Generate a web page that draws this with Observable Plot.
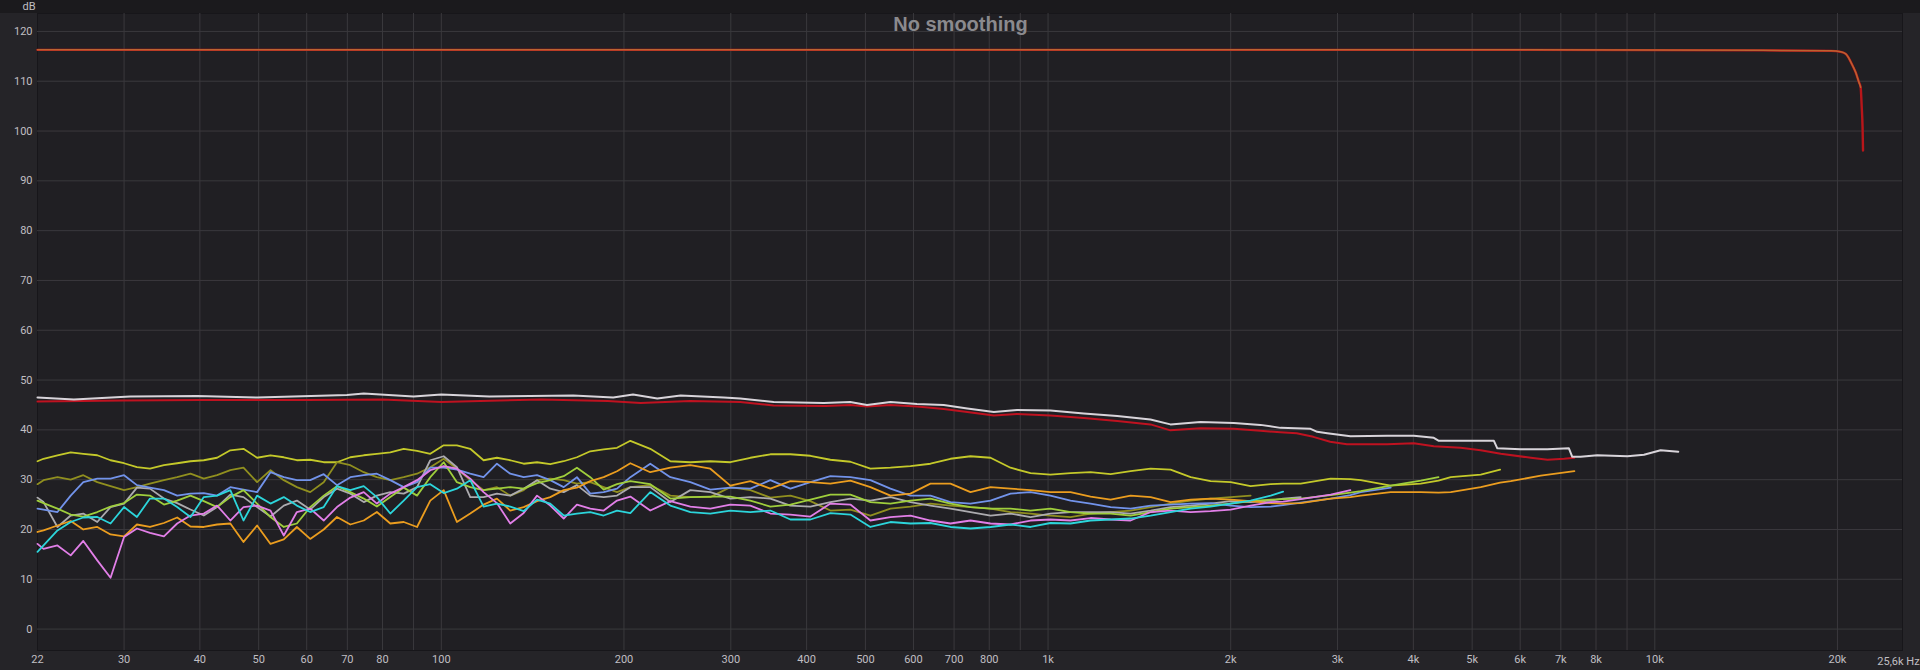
<!DOCTYPE html>
<html><head><meta charset="utf-8">
<script src="https://cdn.jsdelivr.net/npm/d3@7"></script>
<script src="https://cdn.jsdelivr.net/npm/@observablehq/plot@0.6"></script>
<style>
html,body{margin:0;padding:0;background:#252428;overflow:hidden;}
#chart svg{display:block;}
</style></head><body><div id="chart"></div>
<script>
// ---------- DATA ----------
const FREQ_GRID = [21.6, 22.1, 23.3, 24.5, 25.7, 27.1, 28.5, 30.0, 31.5, 33.1,
  34.9, 36.7, 38.6, 40.6, 42.7, 44.9, 47.2, 49.7, 52.3, 55.0,
  57.8, 60.8, 64.0, 67.3, 70.8, 74.5, 78.3, 82.4, 86.7, 91.2,
  95.9, 100.9, 106.1, 111.6, 117.4, 123.5, 129.9, 136.7, 143.8, 151.2,
  159.1, 167.3, 176.0, 185.2, 194.8, 204.9, 221, 238.5, 257.3, 277.6,
  299.5, 323.1, 348.6, 376.1, 405.8, 437.8, 472.3, 509.6, 549.8, 593.2,
  640, 690.5, 745, 803.8, 867.2, 935.6, 1009, 1089, 1175, 1268,
  1368, 1476, 1592, 1718, 1853, 2000, 2157, 2328, 2440, 2609,
  2923, 3150, 3276, 3671, 4114, 4400, 4610, 5166, 5560, 5789,
  6487, 7370];

const yellowDb = [33.7, 34.2, 34.9, 35.5, 35.2, 34.9, 33.9, 33.3, 32.5, 32.2,
  32.9, 33.3, 33.7, 33.9, 34.4, 35.9, 36.2, 34.4, 34.9, 34.5,
  33.9, 34.0, 33.5, 33.5, 34.5, 34.9, 35.2, 35.5, 36.2, 35.8,
  35.2, 36.9, 36.9, 36.2, 33.9, 34.4, 33.9, 33.2, 33.5, 33.1,
  33.7, 34.5, 35.7, 36.1, 36.4, 37.8, 36.2, 33.7, 33.5, 33.7,
  33.5, 34.4, 35.1, 35.1, 34.8, 34.0, 33.6, 32.2, 32.4, 32.7,
  33.2, 34.2, 34.7, 34.4, 32.4, 31.3, 31.0, 31.3, 31.5, 31.1,
  31.7, 32.2, 32.0, 30.5, 29.7, 29.5, 28.7, 29.1, 29.2, 29.2,
  30.2, 30.1, 29.9, 28.8, 29.2, 29.8, 30.5, 31.0, 32.0];

const oliveDb = [29.1, 29.9, 30.5, 30.0, 30.9, 29.5, 28.7, 27.9, 28.5, 29.2,
  29.9, 30.5, 31.2, 30.2, 30.9, 31.9, 32.4, 29.5, 31.9, 29.9,
  28.5, 27.5, 29.5, 33.5, 32.9, 31.5, 30.5, 29.9, 30.5, 31.2,
  32.5, 34.2, 32.2, 29.9, 27.9, 28.5, 26.8, 27.9, 29.9, 30.2,
  29.9, 29.2, 29.5, 28.5, 27.5, 28.5, 28.9, 26.8, 26.5, 26.5,
  28.5, 27.9, 26.4, 26.8, 25.7, 23.8, 24.0, 22.8, 24.2, 24.6,
  25.2, 24.8, 24.5, 24.2, 23.5, 23.2, 22.8, 22.5, 23.2, 23.5,
  23.8, 24.5, 25.2, 25.8, 26.2, 26.5, 26.8];

const blueDb = [24.2, 24.0, 23.5, 26.8, 29.5, 30.2, 30.2, 30.9, 28.9, 28.4,
  27.9, 26.8, 27.2, 27.3, 26.8, 28.5, 28.0, 27.5, 31.5, 30.5,
  29.9, 29.9, 31.1, 28.9, 30.5, 30.9, 31.2, 29.9, 28.5, 29.5,
  32.4, 32.4, 32.0, 31.2, 30.5, 33.2, 31.2, 30.5, 30.9, 29.9,
  28.5, 30.5, 27.2, 27.5, 28.2, 30.5, 33.2, 30.5, 29.5, 28.0,
  28.4, 28.2, 29.9, 28.2, 29.5, 30.7, 30.5, 29.9, 28.2, 26.8,
  26.8, 25.5, 25.2, 25.8, 27.2, 27.5, 26.8, 25.8, 25.2, 24.5,
  24.2, 24.8, 25.0, 25.2, 25.3, 24.8, 24.5, 24.6, 24.9, 25.4,
  26.2, 26.9, 27.5, 28.4];

const grayDb = [26.4, 25.5, 20.5, 22.8, 23.2, 21.5, 24.5, 25.2, 28.4, 28.2,
  26.2, 25.3, 24.0, 22.8, 24.5, 27.0, 26.5, 24.5, 22.6, 24.8,
  25.8, 24.0, 26.5, 28.2, 27.2, 25.5, 26.8, 27.5, 27.2, 28.5,
  33.9, 34.7, 32.5, 26.5, 26.5, 27.2, 26.8, 28.2, 29.9, 28.2,
  27.5, 28.9, 26.8, 26.5, 26.8, 28.5, 28.5, 25.5, 27.9, 27.5,
  26.2, 26.5, 26.2, 24.8, 24.6, 25.5, 26.2, 25.8, 26.5, 25.5,
  24.8, 24.2, 23.5, 22.8, 23.2, 22.5, 23.2, 23.5, 23.5, 23.5,
  23.2, 23.8, 24.5, 24.8, 25.2, 25.7, 25.5, 25.8, 26.2, 26.5];

const limeDb = [25.8, 25.3, 24.2, 23.0, 22.6, 23.5, 24.6, 25.3, 27.0, 26.8,
  25.0, 25.8, 26.8, 25.7, 24.5, 26.5, 27.9, 25.2, 22.5, 20.5,
  21.2, 24.5, 26.8, 28.7, 27.5, 26.2, 24.6, 26.5, 28.4, 26.8,
  30.5, 33.5, 29.5, 28.5, 27.9, 28.2, 28.5, 28.2, 29.3, 29.9,
  30.7, 32.4, 30.5, 28.0, 29.1, 29.7, 29.1, 26.2, 26.5, 26.6,
  26.6, 25.8, 24.6, 25.0, 26.0, 27.0, 27.0, 25.5, 25.2, 25.8,
  26.2, 25.2, 24.5, 24.2, 24.2, 23.8, 24.2, 23.5, 23.2, 23.2,
  22.8, 23.5, 24.2, 24.5, 24.8, 25.2, 25.7, 26.0, 26.1, 26.2,
  26.9, 27.4, 27.7, 28.8, 29.8, 30.5];

const cyanDb = [15.5, 16.8, 19.8, 21.5, 22.4, 22.5, 21.2, 24.5, 22.5, 26.2,
  26.2, 24.5, 22.5, 26.5, 26.8, 27.9, 21.8, 26.8, 25.2, 26.5,
  24.8, 23.5, 24.5, 28.7, 27.9, 28.7, 26.5, 23.2, 25.8, 28.5,
  29.1, 27.3, 28.2, 29.9, 24.6, 25.2, 24.6, 23.7, 26.0, 25.2,
  22.8, 23.2, 23.5, 22.8, 23.8, 23.3, 27.5, 24.8, 23.5, 23.2,
  23.8, 23.5, 23.8, 22.0, 22.0, 23.3, 23.0, 20.5, 21.5, 21.2,
  21.3, 20.5, 20.2, 20.5, 21.0, 20.5, 21.3, 21.2, 21.8, 22.0,
  22.2, 22.8, 23.5, 24.2, 24.6, 25.2, 25.8, 26.8, 27.6];

const pinkDb = [17.1, 16.1, 16.8, 14.8, 17.7, 13.8, 10.3, 18.5, 20.2, 19.3,
  18.6, 21.2, 22.8, 23.2, 24.8, 21.8, 24.5, 24.8, 23.8, 18.8,
  23.5, 24.2, 21.8, 24.5, 26.4, 27.5, 25.2, 27.2, 28.5, 29.9,
  31.9, 32.7, 32.2, 30.2, 27.5, 25.3, 21.2, 23.3, 26.8, 24.8,
  22.2, 25.0, 24.2, 23.8, 25.8, 26.6, 23.8, 25.7, 24.6, 24.2,
  25.0, 24.8, 23.2, 23.0, 22.6, 25.2, 25.0, 21.8, 22.5, 22.8,
  21.8, 21.2, 21.8, 21.2, 21.0, 21.8, 22.0, 21.8, 22.3, 22.0,
  21.8, 23.5, 23.8, 23.5, 23.7, 24.0, 24.8, 25.5, 25.6, 26.1,
  27.0, 27.9];

const orangeDb = [19.5, 19.8, 20.8, 21.7, 20.0, 20.5, 19.0, 18.6, 21.0, 20.5,
  21.3, 22.4, 20.6, 20.5, 21.0, 21.2, 17.5, 20.8, 17.1, 18.0,
  20.5, 18.1, 20.0, 22.5, 21.0, 21.8, 23.5, 21.2, 21.5, 20.5,
  25.8, 27.9, 21.5, 23.2, 25.0, 26.2, 23.8, 24.5, 25.7, 26.5,
  27.9, 28.4, 29.7, 30.5, 31.7, 33.3, 31.5, 32.4, 32.9, 32.2,
  28.8, 29.7, 28.2, 29.7, 29.5, 29.2, 29.8, 28.5, 26.8, 27.2,
  29.2, 29.2, 27.5, 28.5, 28.2, 27.9, 27.5, 27.5, 26.6, 26.0,
  26.8, 26.5, 25.5, 26.0, 26.2, 26.0, 25.7, 25.3, 25.2, 25.3,
  26.2, 26.5, 26.8, 27.5, 27.5, 27.4, 27.5, 28.5, 29.4, 29.7,
  30.8, 31.7];

const whiteFreq = [21.6, 24.8, 30.7, 39.6, 49.7, 69.9, 74.5, 90, 100, 120,
  165, 192, 207, 227, 248, 292, 311, 353, 427, 472,
  503, 550, 608, 673, 736, 814, 889, 1009, 1145, 1300,
  1475, 1591, 1783, 2024, 2239, 2416, 2708, 2777, 2885, 3151,
  3622, 4008, 4323, 4406, 5430, 5501, 6009, 6651, 7218, 7311,
  7546, 8039, 9010, 9597, 10222, 10932];
const whiteDb = [46.5, 46.1, 46.7, 46.8, 46.5, 47.0, 47.3, 46.7, 47.1, 46.7,
  46.9, 46.5, 47.1, 46.3, 46.9, 46.5, 46.3, 45.6, 45.4, 45.6,
  45.0, 45.6, 45.2, 45.0, 44.3, 43.6, 44.0, 43.9, 43.3, 42.8,
  42.1, 41.1, 41.6, 41.4, 41.0, 40.4, 40.2, 39.6, 39.3, 38.7,
  38.8, 38.8, 38.4, 37.8, 37.8, 36.3, 36.1, 36.1, 36.3, 34.6,
  34.6, 34.9, 34.7, 35.0, 35.9, 35.6];

const redFreq = [21.6, 30, 40, 60, 80, 100, 146, 188, 213, 257,
  311, 353, 430, 472, 503, 550, 608, 673, 736, 814,
  889, 1009, 1145, 1300, 1475, 1591, 1783, 2024, 2239, 2416,
  2569, 2736, 2917, 3108, 3622, 4006, 4323, 4786, 5164, 5573,
  6247, 6656, 7092, 7367];
const redDb = [45.7, 45.9, 46.0, 46.0, 46.1, 45.6, 46.1, 45.8, 45.4, 45.8,
  45.6, 44.9, 44.8, 45.0, 44.7, 45.0, 44.7, 44.2, 43.6, 42.9,
  43.2, 42.9, 42.4, 41.8, 41.1, 39.9, 40.3, 40.2, 39.8, 39.5,
  39.3, 38.6, 37.6, 37.1, 37.1, 37.3, 36.7, 36.4, 35.9, 35.2,
  34.4, 34.0, 34.2, 34.4];

const levelFreq = [21.6, 500, 5000, 15000, 19500, 20250, 20640, 20890, 21170, 21430,
  21700, 21840, 21930, 22000, 22040];
const levelDb = [116.3, 116.3, 116.3, 116.2, 116.1, 115.9, 115.5, 114.6, 113.2, 111.8,
  109.8, 108.8, 104.8, 100.8, 96.1];
const levelOrangeFreq = [21.6, 500, 5000, 15000, 19500, 20250, 20640, 20890, 21170, 21430, 21700, 21840];
const levelOrangeDb = [116.3, 116.3, 116.3, 116.2, 116.1, 115.9, 115.5, 114.6, 113.2, 111.8, 109.8, 108.8];

const yTicks = [0, 10, 20, 30, 40, 50, 60, 70, 80, 90, 100, 110, 120];
const xTickValues = [21.6, 30, 40, 50, 60, 70, 80, 90, 100, 200, 300, 400, 500, 600, 700, 800, 900,
  1000, 2000, 3000, 4000, 5000, 6000, 7000, 8000, 9000, 10000, 20000];
const xTickLabels = ["22", "30", "40", "50", "60", "70", "80", "90", "100", "200", "300", "400", "500", "600", "700", "800", "900",
  "1k", "2k", "3k", "4k", "5k", "6k", "7k", "8k", "9k", "10k", "20k"];
const xGrid = [30, 40, 50, 60, 70, 80, 90, 100, 200, 300, 400, 500, 600, 700, 800, 900,
  1000, 2000, 3000, 4000, 5000, 6000, 7000, 8000, 9000, 10000, 20000];
const xEndLabel = "25,6k Hz";
const xEnd = 25600;
const title = "No smoothing";
const yUnit = "dB";

// ---------- BUILD ----------
const noisy = [
  {values: yellowDb, color: "#c4c92a"},
  {values: oliveDb, color: "#908f1f"},
  {values: grayDb, color: "#acabaf"},
  {values: blueDb, color: "#7293ea"},
  {values: limeDb, color: "#9fce3c"},
  {values: orangeDb, color: "#eb9d1f"},
  {values: pinkDb, color: "#e27fe8"},
  {values: cyanDb, color: "#2cd5db"}
];
const toRows = (fs, vs) => vs.map((v, i) => ({f: fs[i], db: v}));
const labelOf = new Map(xTickValues.map((v, i) => [v, xTickLabels[i]]));

const gridColor = "#3a393d";
const textColor = "#c0bfc3";

const marks = [
  Plot.frame({fill: "#201f23", stroke: "#17161a", strokeWidth: 1}),
  Plot.ruleY(yTicks, {stroke: gridColor, strokeWidth: 1}),
  Plot.ruleX(xGrid, {stroke: gridColor, strokeWidth: 1}),
  Plot.axisY(yTicks, {tickSize: 0, tickPadding: 5, fill: textColor, fontSize: 11, label: null}),
  Plot.axisX(xTickValues, {tickSize: 0, tickPadding: 5, fill: textColor, fontSize: 11, label: null,
    tickFormat: d => labelOf.get(d)}),
  Plot.text([xEndLabel], {x: [xEnd], frameAnchor: "bottom", dy: 11, dx: -4, lineAnchor: "middle",
    fill: textColor, fontSize: 11}),
  Plot.text([yUnit], {frameAnchor: "top-left", dx: -15, dy: -7.5, lineAnchor: "middle",
    fill: textColor, fontSize: 11}),
  Plot.text([title], {frameAnchor: "top", dx: -9.5, dy: 11.5, lineAnchor: "middle",
    fill: "#8b8a8e", fontSize: 20, fontWeight: "bold", fontFamily: "'Liberation Sans', Arial, sans-serif"}),
  ...noisy.map(s => Plot.line(toRows(FREQ_GRID, s.values), {x: "f", y: "db", stroke: s.color,
    strokeWidth: 1.8, strokeLinejoin: "round"})),
  Plot.line(toRows(redFreq, redDb), {x: "f", y: "db", stroke: "#bf1220", strokeWidth: 2}),
  Plot.line(toRows(whiteFreq, whiteDb), {x: "f", y: "db", stroke: "#d8d4da", strokeWidth: 2}),
  Plot.line(toRows(levelFreq, levelDb), {x: "f", y: "db", stroke: "#b8161a", strokeWidth: 2.4, curve: "monotone-x"}),
  Plot.line(toRows(levelOrangeFreq, levelOrangeDb), {x: "f", y: "db", stroke: "#bb6230", strokeWidth: 1.5, curve: "monotone-x"})
];

const chart = Plot.plot({
  width: 1920,
  height: 670,
  marginLeft: 37,
  marginRight: 18,
  marginTop: 13,
  marginBottom: 20,
  style: {
    background: "linear-gradient(to bottom, #1b1a1d 0px, #1b1a1d 13px, #252428 13px)",
    color: textColor,
    fontFamily: "Roboto, 'DejaVu Sans', sans-serif",
    fontSize: "11px"
  },
  x: {type: "log", domain: [21.6, 25600], axis: null},
  y: {domain: [-4.3, 123.6], axis: null},
  marks
});
document.getElementById("chart").appendChild(chart);
</script></body></html>
